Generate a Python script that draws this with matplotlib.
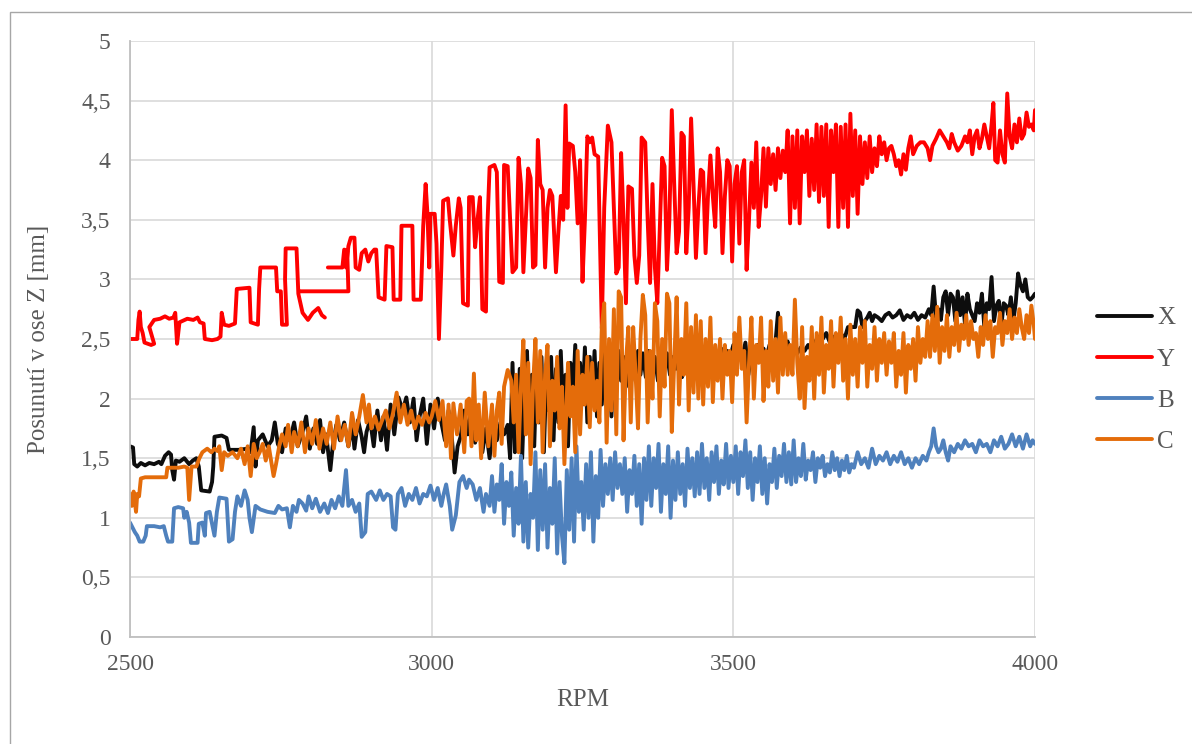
import numpy as np
import matplotlib
matplotlib.use("Agg")
import matplotlib.pyplot as plt
from matplotlib.patches import Rectangle

nan = np.nan

# (RPM, posunuti [mm])
x_points = [
    (2500, 1.60), (2505, 1.59), (2507, 1.45), (2512, 1.43), (2518, 1.46), (2525, 1.44), (2532, 1.46),
    (2540, 1.45), (2548, 1.47), (2552, 1.45), (2558, 1.52), (2564, 1.55), (2568, 1.53), (2570, 1.40),
    (2573, 1.32), (2576, 1.48), (2582, 1.47), (2590, 1.50), (2598, 1.45), (2604, 1.48), (2610, 1.50),
    (2614, 1.43), (2618, 1.23), (2632, 1.22), (2636, 1.30), (2638, 1.43), (2640, 1.68), (2652, 1.69),
    (2660, 1.67), (2664, 1.57), (2680, 1.57), (2695, 1.58), (2700, 1.55), (2705, 1.76), (2708, 1.43),
    (2712, 1.65), (2720, 1.70), (2728, 1.60), (2735, 1.65), (2740, 1.80), (2745, 1.62), (2752, 1.55),
    (2758, 1.75), (2765, 1.65), (2772, 1.80), (2778, 1.60), (2785, 1.70), (2792, 1.85), (2798, 1.58),
    (2804, 1.75), (2810, 1.62), (2815, 1.82), (2820, 1.55), (2825, 1.70), (2832, 1.40), (2836, 1.60),
    (2842, 1.78), (2848, 1.65), (2855, 1.80), (2862, 1.60), (2868, 1.78), (2872, 1.58), (2878, 1.82),
    (2884, 1.68), (2888, 1.55), (2892, 1.72), (2898, 1.82), (2904, 1.60), (2910, 1.90), (2916, 1.65),
    (2920, 1.85), (2926, 1.57), (2932, 1.95), (2938, 1.70), (2945, 2.01), (2952, 1.90), (2958, 2.01),
    (2964, 1.80), (2970, 2.00), (2975, 1.65), (2980, 1.85), (2986, 2.00), (2992, 1.62), (2998, 1.95),
    (3004, 1.75), (3010, 2.00), (3016, 1.80), (3022, 1.65), (3028, 1.90), (3033, 1.70), (3038, 1.38),
    (3043, 1.60), (3048, 1.68), (3054, 1.90), (3060, 1.70), (3066, 1.93), (3072, 1.63), (3078, 1.80),
    (3084, 1.55), (3090, 1.75), (3096, 1.50), (3102, 1.78), (3108, 1.65), (3114, 1.80), (3120, 1.70),
    (3126, 1.78), (3130, 1.50), (3134, 2.30), (3138, 1.55), (3142, 1.75), (3146, 2.25), (3150, 1.50),
    (3154, 2.10), (3158, 2.40), (3162, 1.70), (3166, 2.20), (3170, 1.60), (3174, 2.30), (3178, 1.80),
    (3182, 2.35), (3186, 1.55), (3190, 2.20), (3194, 1.90), (3198, 2.35), (3202, 1.65), (3206, 2.25),
    (3210, 1.80), (3214, 2.40), (3218, 1.85), (3222, 2.20), (3226, 1.60), (3230, 2.30), (3234, 2.00),
    (3238, 2.45), (3242, 1.80), (3246, 2.30), (3250, 1.95), (3254, 2.43), (3258, 1.80), (3262, 2.35),
    (3266, 2.00), (3270, 2.40), (3274, 1.85), (3278, 2.30), (3282, 1.95), (3286, 2.38), (3290, 2.05),
    (3294, 2.45), (3298, 1.85), (3302, 2.30), (3306, 2.10), (3310, 2.40), (3314, 2.15), (3318, 2.35),
    (3322, 2.10), (3326, 2.40), (3330, 2.20), (3334, 2.35), (3338, 2.15), (3342, 2.40), (3346, 2.20),
    (3350, 2.38), (3355, 2.18), (3360, 2.40), (3365, 2.20), (3370, 2.35), (3375, 2.15), (3380, 2.40),
    (3385, 2.25), (3390, 2.38), (3395, 2.20), (3400, 2.35), (3405, 2.25), (3410, 2.40), (3415, 2.18),
    (3420, 2.35), (3425, 2.28), (3430, 2.40), (3435, 2.20), (3440, 2.38), (3445, 2.30), (3450, 2.42),
    (3455, 2.25), (3460, 2.38), (3465, 2.30), (3470, 2.40), (3475, 2.28), (3480, 2.42), (3485, 2.30),
    (3490, 2.40), (3495, 2.35), (3500, 2.45), (3505, 2.30), (3510, 2.42), (3515, 2.35), (3520, 2.47),
    (3525, 2.20), (3530, 2.40), (3535, 2.30), (3540, 2.45), (3545, 2.38), (3550, 2.42), (3555, 2.35),
    (3560, 2.45), (3565, 2.38), (3570, 2.48), (3574, 2.72), (3578, 2.50), (3582, 2.45), (3586, 2.40),
    (3590, 2.48), (3595, 2.38), (3600, 2.45), (3606, 2.38), (3612, 2.43), (3618, 2.40), (3624, 2.45),
    (3630, 2.40), (3636, 2.48), (3642, 2.52), (3648, 2.50), (3654, 2.55), (3660, 2.47), (3666, 2.52),
    (3672, 2.48), (3678, 2.55), (3684, 2.50), (3690, 2.60), (3696, 2.60), (3702, 2.60), (3706, 2.74),
    (3710, 2.72), (3714, 2.60), (3718, 2.65), (3722, 2.68), (3726, 2.72), (3730, 2.65), (3734, 2.70),
    (3740, 2.68), (3746, 2.65), (3752, 2.70), (3758, 2.72), (3764, 2.68), (3770, 2.70), (3776, 2.74),
    (3782, 2.66), (3788, 2.70), (3794, 2.68), (3800, 2.72), (3806, 2.66), (3812, 2.70), (3818, 2.68),
    (3824, 2.75), (3828, 2.70), (3832, 2.94), (3836, 2.68), (3840, 2.75), (3844, 2.66), (3848, 2.85),
    (3852, 2.90), (3856, 2.70), (3860, 2.88), (3864, 2.85), (3868, 2.65), (3872, 2.90), (3876, 2.70),
    (3880, 2.85), (3884, 2.62), (3888, 2.88), (3892, 2.75), (3896, 2.70), (3900, 2.65), (3904, 2.80),
    (3908, 2.72), (3912, 2.88), (3916, 2.60), (3920, 2.80), (3924, 2.75), (3928, 3.02), (3932, 2.65),
    (3936, 2.78), (3940, 2.82), (3944, 2.60), (3948, 2.80), (3952, 2.78), (3956, 2.70), (3960, 2.85),
    (3964, 2.65), (3968, 2.80), (3972, 3.05), (3976, 2.95), (3980, 2.90), (3984, 3.00), (3988, 2.85),
    (3992, 2.83), (3996, 2.85), (4000, 2.88),
]

y_points = [
    (2500, 2.50), (2512, 2.50), (2514, 2.66), (2516, 2.73), (2518, 2.60), (2521, 2.55), (2524, 2.47),
    (2535, 2.45), (2540, 2.46), (2532, 2.60), (2540, 2.66), (2550, 2.67), (2558, 2.69), (2565, 2.67),
    (2572, 2.68), (2575, 2.72), (2578, 2.46), (2582, 2.64), (2595, 2.67), (2605, 2.66), (2612, 2.68),
    (2616, 2.64), (2622, 2.63), (2624, 2.50), (2636, 2.49), (2645, 2.50), (2650, 2.52), (2652, 2.72),
    (2656, 2.62), (2664, 2.61), (2674, 2.63), (2677, 2.92), (2698, 2.93), (2700, 2.64), (2712, 2.62),
    (2714, 2.92), (2716, 3.10), (2742, 3.10), (2744, 2.90), (2750, 2.90), (2752, 2.62), (2760, 2.62),
    (2757, 3.00), (2758, 3.26), (2776, 3.26), (2779, 2.88), (2786, 2.72), (2795, 2.66), (2803, 2.72),
    (2812, 2.76), (2818, 2.70), (2823, 2.68), (nan, nan),
    (2828, 3.10), (2852, 3.10), (2855, 3.25), (2860, 3.24), (2862, 2.90), (2782, 2.90), (nan, nan),
    (2858, 3.10), (2862, 3.28), (2866, 3.35), (2872, 3.35), (2874, 3.10), (2880, 3.08), (2884, 3.22),
    (2890, 3.25), (2895, 3.15), (2900, 3.22), (2905, 3.25), (2908, 3.25), (2912, 2.85), (2922, 2.83),
    (2925, 3.28), (2935, 3.27), (2937, 2.83), (2948, 2.83), (2950, 3.45), (2968, 3.45), (2970, 2.83),
    (2982, 2.83), (2986, 3.45), (2990, 3.80), (2993, 3.55), (2996, 3.10), (2998, 3.55), (3005, 3.55),
    (3008, 3.30), (3012, 2.50), (3016, 3.10), (3019, 3.66), (3027, 3.68), (3030, 3.50), (3036, 3.20),
    (3040, 3.45), (3045, 3.68), (3048, 3.60), (3052, 2.80), (3060, 2.78), (3062, 3.69), (3068, 3.69),
    (3072, 3.27), (3076, 3.50), (3080, 3.69), (3084, 2.75), (3090, 2.73), (3092, 3.40), (3096, 3.94),
    (3104, 3.96), (3108, 3.90), (3112, 2.98), (3118, 2.97), (3120, 3.96), (3126, 3.95), (3130, 3.50),
    (3134, 3.06), (3140, 3.10), (3144, 4.02), (3148, 3.80), (3152, 3.06), (3156, 3.50), (3160, 3.93),
    (3164, 3.85), (3168, 3.10), (3172, 3.12), (3176, 4.17), (3180, 3.80), (3184, 3.75), (3188, 3.10),
    (3192, 3.60), (3196, 3.75), (3200, 3.70), (3206, 3.06), (3210, 3.40), (3214, 3.70), (3218, 3.50),
    (3222, 4.46), (3225, 3.60), (3228, 4.14), (3234, 4.12), (3238, 3.90), (3242, 3.47), (3246, 4.00),
    (3250, 2.98), (3254, 3.50), (3258, 4.20), (3262, 4.15), (3266, 4.19), (3270, 4.05), (3276, 4.03),
    (3282, 2.59), (3286, 3.60), (3292, 4.29), (3298, 4.15), (3302, 3.60), (3306, 3.05), (3310, 3.10),
    (3314, 4.06), (3318, 3.50), (3322, 2.80), (3326, 3.78), (3332, 3.76), (3336, 3.20), (3340, 2.97),
    (3344, 3.20), (3348, 4.19), (3354, 4.15), (3358, 3.50), (3362, 2.97), (3366, 3.80), (3370, 3.10),
    (3374, 2.80), (3378, 3.40), (3382, 4.02), (3386, 3.95), (3390, 3.08), (3394, 3.50), (3398, 4.42),
    (3402, 3.80), (3406, 3.22), (3410, 3.40), (3414, 4.23), (3418, 4.20), (3422, 3.22), (3426, 3.60),
    (3430, 4.35), (3434, 3.80), (3438, 3.18), (3442, 3.60), (3446, 3.92), (3450, 3.90), (3454, 3.22),
    (3458, 3.70), (3462, 4.04), (3466, 3.70), (3470, 3.44), (3474, 4.10), (3478, 3.90), (3482, 3.22),
    (3486, 3.70), (3490, 4.00), (3494, 3.95), (3498, 3.15), (3502, 3.80), (3506, 3.95), (3510, 3.30),
    (3514, 3.90), (3518, 4.00), (3522, 3.08), (3526, 3.50), (3530, 3.98), (3534, 3.60), (3538, 4.15),
    (3542, 3.44), (3546, 3.70), (3550, 4.10), (3554, 3.61), (3558, 4.10), (3562, 3.80), (3566, 4.05),
    (3570, 3.75), (3574, 4.10), (3578, 3.85), (3582, 4.08), (3586, 3.90), (3590, 4.25), (3594, 3.47),
    (3598, 4.20), (3602, 3.60), (3606, 4.25), (3610, 3.47), (3614, 4.20), (3618, 3.90), (3622, 4.25),
    (3626, 3.70), (3630, 4.18), (3634, 3.75), (3638, 4.30), (3642, 3.65), (3646, 4.28), (3650, 3.70),
    (3654, 4.30), (3658, 3.44), (3662, 4.25), (3666, 3.90), (3670, 4.30), (3674, 3.44), (3678, 4.28),
    (3682, 3.60), (3686, 4.30), (3690, 3.44), (3694, 4.39), (3698, 3.70), (3702, 4.25), (3706, 3.55),
    (3710, 4.20), (3714, 3.80), (3718, 4.15), (3722, 3.85), (3726, 4.20), (3730, 3.90), (3734, 4.10),
    (3738, 3.95), (3742, 4.20), (3746, 4.05), (3750, 4.15), (3754, 4.00), (3758, 4.10), (3762, 4.12),
    (3766, 4.05), (3770, 3.95), (3774, 4.00), (3778, 3.88), (3782, 4.05), (3786, 3.92), (3790, 4.10),
    (3794, 4.20), (3798, 4.05), (3804, 4.12), (3810, 4.15), (3816, 4.15), (3822, 4.10), (3826, 4.00),
    (3830, 4.12), (3836, 4.18), (3842, 4.25), (3848, 4.20), (3854, 4.15), (3858, 4.10), (3862, 4.22),
    (3866, 4.15), (3872, 4.08), (3878, 4.12), (3884, 4.20), (3888, 4.15), (3892, 4.25), (3896, 4.05),
    (3900, 4.20), (3904, 4.25), (3908, 4.10), (3912, 4.18), (3916, 4.30), (3920, 4.20), (3924, 4.10),
    (3928, 4.30), (3931, 4.48), (3934, 4.00), (3938, 3.98), (3942, 4.25), (3946, 4.05), (3950, 3.98),
    (3954, 4.56), (3958, 4.20), (3962, 4.10), (3966, 4.30), (3970, 4.15), (3974, 4.35), (3978, 4.18),
    (3982, 4.22), (3986, 4.40), (3990, 4.28), (3994, 4.30), (3998, 4.25), (4000, 4.42),
]

b_points = [
    (2500, 0.96), (2504, 0.92), (2508, 0.88), (2512, 0.85), (2516, 0.80), (2522, 0.80), (2526, 0.85),
    (2528, 0.93), (2540, 0.93), (2550, 0.92), (2556, 0.93), (2560, 0.85), (2563, 0.80), (2570, 0.80),
    (2573, 1.08), (2580, 1.09), (2588, 1.08), (2590, 1.00), (2594, 1.05), (2598, 0.96), (2601, 0.79),
    (2612, 0.79), (2614, 0.95), (2620, 0.96), (2624, 0.85), (2626, 1.04), (2632, 1.05), (2636, 0.95),
    (2640, 0.85), (2644, 1.05), (2648, 1.17), (2660, 1.16), (2664, 0.80), (2670, 0.82), (2674, 1.05),
    (2678, 1.18), (2684, 1.10), (2690, 1.23), (2695, 1.15), (2698, 1.00), (2702, 0.88), (2708, 1.10),
    (2716, 1.07), (2728, 1.05), (2740, 1.04), (2746, 1.10), (2752, 1.07), (2760, 1.08), (2765, 0.92),
    (2770, 1.10), (2776, 1.05), (2780, 1.15), (2786, 1.12), (2792, 1.06), (2796, 1.18), (2802, 1.08),
    (2808, 1.16), (2815, 1.05), (2822, 1.12), (2828, 1.04), (2834, 1.15), (2840, 1.08), (2846, 1.18),
    (2852, 1.10), (2858, 1.40), (2862, 1.10), (2868, 1.15), (2874, 1.05), (2880, 1.12), (2884, 0.84),
    (2890, 0.88), (2894, 1.20), (2900, 1.22), (2908, 1.15), (2914, 1.23), (2920, 1.15), (2926, 1.20),
    (2932, 1.18), (2936, 0.92), (2940, 0.90), (2944, 1.20), (2950, 1.25), (2956, 1.10), (2962, 1.20),
    (2968, 1.15), (2974, 1.25), (2980, 1.12), (2986, 1.20), (2992, 1.18), (2998, 1.27), (3004, 1.15),
    (3010, 1.25), (3016, 1.10), (3020, 1.20), (3024, 1.28), (3030, 1.10), (3034, 0.90), (3040, 1.02),
    (3046, 1.30), (3052, 1.35), (3058, 1.25), (3062, 1.32), (3068, 1.28), (3074, 1.15), (3080, 1.25),
    (3086, 1.05), (3090, 1.20), (3096, 1.10), (3100, 1.35), (3104, 1.05), (3108, 1.28), (3112, 1.15),
    (3116, 1.45), (3120, 0.95), (3124, 1.30), (3128, 1.10), (3132, 1.38), (3136, 0.85), (3140, 1.25),
    (3144, 0.95), (3148, 1.52), (3152, 0.80), (3156, 1.30), (3160, 0.75), (3164, 1.20), (3168, 1.00),
    (3172, 1.55), (3176, 0.73), (3180, 1.40), (3184, 0.90), (3188, 1.45), (3192, 0.75), (3196, 1.25),
    (3200, 0.95), (3204, 1.50), (3208, 0.70), (3212, 1.30), (3216, 0.85), (3220, 0.62), (3224, 1.40),
    (3228, 0.90), (3232, 1.50), (3236, 0.80), (3240, 1.60), (3244, 1.05), (3248, 1.30), (3252, 0.90),
    (3256, 1.45), (3260, 1.00), (3264, 1.55), (3268, 0.80), (3272, 1.35), (3276, 1.00), (3280, 1.57),
    (3284, 1.10), (3288, 1.45), (3292, 1.20), (3296, 1.50), (3300, 1.15), (3304, 1.55), (3308, 1.25),
    (3312, 1.45), (3316, 1.20), (3320, 1.50), (3324, 1.05), (3328, 1.40), (3332, 1.20), (3336, 1.52),
    (3340, 1.10), (3344, 1.45), (3348, 0.95), (3352, 1.50), (3356, 1.15), (3360, 1.60), (3364, 1.10),
    (3368, 1.50), (3372, 1.25), (3376, 1.62), (3380, 1.05), (3384, 1.45), (3388, 1.20), (3392, 1.60),
    (3396, 1.00), (3400, 1.48), (3404, 1.15), (3408, 1.55), (3412, 1.20), (3416, 1.45), (3420, 1.10),
    (3424, 1.58), (3428, 1.25), (3432, 1.50), (3436, 1.18), (3440, 1.55), (3444, 1.20), (3448, 1.62),
    (3452, 1.25), (3456, 1.50), (3460, 1.15), (3464, 1.55), (3468, 1.30), (3472, 1.60), (3476, 1.20),
    (3480, 1.48), (3484, 1.28), (3488, 1.62), (3492, 1.25), (3496, 1.52), (3500, 1.30), (3504, 1.60),
    (3508, 1.20), (3512, 1.55), (3516, 1.35), (3520, 1.65), (3524, 1.25), (3528, 1.55), (3532, 1.15),
    (3536, 1.50), (3540, 1.30), (3544, 1.60), (3548, 1.20), (3552, 1.50), (3556, 1.12), (3560, 1.45),
    (3564, 1.30), (3568, 1.58), (3572, 1.25), (3576, 1.52), (3580, 1.35), (3584, 1.62), (3588, 1.30),
    (3592, 1.55), (3596, 1.28), (3600, 1.65), (3604, 1.30), (3608, 1.50), (3612, 1.35), (3616, 1.62),
    (3620, 1.32), (3624, 1.48), (3628, 1.40), (3632, 1.55), (3636, 1.30), (3640, 1.50), (3644, 1.42),
    (3648, 1.52), (3652, 1.35), (3656, 1.45), (3660, 1.38), (3664, 1.55), (3668, 1.40), (3672, 1.50),
    (3676, 1.35), (3680, 1.48), (3684, 1.40), (3688, 1.52), (3692, 1.38), (3696, 1.45), (3700, 1.42),
    (3706, 1.55), (3712, 1.45), (3718, 1.50), (3724, 1.42), (3730, 1.58), (3736, 1.45), (3742, 1.52),
    (3748, 1.48), (3754, 1.55), (3760, 1.45), (3766, 1.52), (3772, 1.47), (3778, 1.55), (3784, 1.45),
    (3790, 1.50), (3796, 1.42), (3802, 1.50), (3808, 1.45), (3814, 1.52), (3820, 1.48), (3824, 1.55),
    (3828, 1.60), (3832, 1.75), (3836, 1.60), (3840, 1.55), (3844, 1.58), (3848, 1.65), (3852, 1.55),
    (3856, 1.48), (3860, 1.60), (3866, 1.55), (3872, 1.62), (3878, 1.58), (3884, 1.65), (3890, 1.60),
    (3896, 1.62), (3902, 1.55), (3908, 1.65), (3914, 1.60), (3920, 1.62), (3926, 1.55), (3932, 1.65),
    (3938, 1.60), (3944, 1.68), (3950, 1.58), (3956, 1.62), (3962, 1.70), (3968, 1.60), (3974, 1.68),
    (3980, 1.58), (3986, 1.70), (3992, 1.60), (3996, 1.65), (4000, 1.62),
]

c_points = [
    (2500, 1.20), (2503, 1.10), (2506, 1.22), (2510, 1.05), (2512, 1.20), (2515, 1.18), (2518, 1.33),
    (2525, 1.34), (2535, 1.34), (2545, 1.34), (2560, 1.34), (2562, 1.42), (2570, 1.42), (2580, 1.42),
    (2590, 1.43), (2595, 1.42), (2598, 1.15), (2602, 1.43), (2610, 1.43), (2615, 1.50), (2620, 1.55),
    (2628, 1.58), (2635, 1.55), (2640, 1.58), (2645, 1.56), (2648, 1.60), (2652, 1.40), (2656, 1.55),
    (2662, 1.52), (2670, 1.55), (2678, 1.50), (2684, 1.58), (2690, 1.45), (2695, 1.60), (2700, 1.35),
    (2705, 1.62), (2710, 1.50), (2715, 1.55), (2720, 1.62), (2725, 1.48), (2730, 1.60), (2738, 1.35),
    (2742, 1.45), (2748, 1.62), (2752, 1.70), (2758, 1.60), (2762, 1.78), (2768, 1.55), (2772, 1.72),
    (2778, 1.60), (2784, 1.80), (2790, 1.55), (2796, 1.75), (2802, 1.62), (2808, 1.82), (2814, 1.58),
    (2820, 1.75), (2826, 1.62), (2832, 1.80), (2838, 1.58), (2844, 1.85), (2850, 1.65), (2856, 1.78),
    (2862, 1.60), (2868, 1.88), (2874, 1.70), (2880, 1.85), (2886, 2.03), (2892, 1.80), (2896, 1.95),
    (2900, 1.75), (2906, 1.85), (2912, 1.74), (2918, 1.82), (2924, 1.90), (2930, 1.75), (2936, 1.88),
    (2942, 2.05), (2948, 1.80), (2954, 1.95), (2960, 1.78), (2966, 1.90), (2972, 1.75), (2978, 1.85),
    (2984, 1.78), (2990, 1.88), (2996, 1.80), (3000, 1.85), (3006, 1.98), (3012, 1.82), (3018, 1.98),
    (3024, 1.60), (3028, 1.95), (3032, 1.50), (3036, 1.96), (3042, 1.70), (3048, 1.95), (3054, 1.55),
    (3058, 1.98), (3062, 2.00), (3066, 1.60), (3070, 2.21), (3074, 1.65), (3078, 1.95), (3082, 1.50),
    (3088, 2.05), (3094, 1.60), (3100, 1.95), (3104, 1.52), (3108, 1.90), (3112, 2.05), (3116, 1.62),
    (3120, 2.10), (3126, 2.24), (3132, 2.15), (3136, 1.80), (3140, 2.20), (3144, 1.55), (3148, 2.10),
    (3152, 2.49), (3156, 1.70), (3160, 2.30), (3164, 1.45), (3168, 2.10), (3172, 2.50), (3176, 1.80),
    (3180, 2.40), (3184, 1.55), (3188, 2.20), (3192, 2.45), (3196, 1.60), (3200, 2.15), (3204, 1.90),
    (3208, 2.35), (3212, 1.75), (3216, 2.10), (3220, 1.45), (3226, 2.30), (3230, 1.85), (3234, 2.10),
    (3238, 1.55), (3242, 2.40), (3246, 1.70), (3250, 2.20), (3254, 1.95), (3258, 2.35), (3262, 1.76),
    (3266, 2.30), (3270, 1.90), (3274, 2.15), (3278, 1.80), (3282, 2.60), (3286, 2.80), (3290, 1.63),
    (3294, 2.50), (3298, 1.90), (3302, 2.75), (3306, 1.70), (3310, 2.90), (3314, 2.85), (3318, 1.65),
    (3322, 2.30), (3326, 2.60), (3330, 1.80), (3334, 2.60), (3338, 2.20), (3342, 1.75), (3346, 2.50),
    (3350, 2.87), (3354, 2.70), (3358, 1.80), (3362, 2.40), (3366, 2.00), (3370, 2.80), (3374, 2.65),
    (3378, 1.85), (3382, 2.50), (3386, 2.10), (3390, 2.88), (3394, 2.80), (3398, 1.72), (3402, 2.30),
    (3406, 2.85), (3410, 1.95), (3414, 2.50), (3418, 2.20), (3422, 2.80), (3426, 1.90), (3430, 2.60),
    (3434, 2.05), (3438, 2.70), (3442, 2.00), (3446, 2.65), (3450, 1.95), (3454, 2.50), (3458, 2.10),
    (3462, 2.68), (3466, 1.97), (3470, 2.45), (3474, 2.15), (3478, 2.50), (3482, 2.00), (3486, 2.45),
    (3490, 2.20), (3494, 2.40), (3498, 1.97), (3502, 2.55), (3506, 2.20), (3510, 2.68), (3514, 2.25),
    (3518, 2.40), (3522, 1.80), (3526, 2.30), (3530, 2.68), (3534, 2.00), (3538, 2.45), (3542, 2.30),
    (3546, 2.68), (3550, 1.98), (3554, 2.40), (3558, 2.10), (3562, 2.65), (3566, 2.15), (3570, 2.50),
    (3574, 2.05), (3578, 2.68), (3582, 2.20), (3586, 2.55), (3590, 2.20), (3594, 2.45), (3598, 2.20),
    (3602, 2.83), (3606, 2.30), (3610, 2.00), (3614, 2.60), (3618, 1.92), (3622, 2.35), (3626, 2.15),
    (3630, 2.60), (3634, 2.00), (3638, 2.55), (3642, 2.20), (3646, 2.68), (3650, 2.05), (3654, 2.45),
    (3658, 2.25), (3662, 2.65), (3666, 2.10), (3670, 2.55), (3674, 2.30), (3678, 2.68), (3682, 2.15),
    (3686, 2.50), (3690, 2.00), (3694, 2.62), (3698, 2.20), (3702, 2.50), (3706, 2.10), (3710, 2.60),
    (3714, 2.30), (3718, 2.65), (3722, 2.10), (3726, 2.45), (3730, 2.25), (3734, 2.60), (3738, 2.15),
    (3742, 2.50), (3746, 2.30), (3750, 2.55), (3754, 2.20), (3758, 2.48), (3762, 2.30), (3766, 2.55),
    (3770, 2.10), (3774, 2.40), (3778, 2.20), (3782, 2.55), (3786, 2.05), (3790, 2.45), (3794, 2.25),
    (3798, 2.50), (3802, 2.15), (3806, 2.60), (3810, 2.30), (3814, 2.50), (3818, 2.35), (3822, 2.65),
    (3826, 2.35), (3830, 2.70), (3834, 2.40), (3838, 2.77), (3842, 2.30), (3846, 2.60), (3850, 2.40),
    (3854, 2.70), (3858, 2.35), (3862, 2.60), (3866, 2.45), (3870, 2.72), (3874, 2.40), (3878, 2.62),
    (3882, 2.50), (3886, 2.70), (3890, 2.45), (3894, 2.65), (3898, 2.50), (3902, 2.55), (3906, 2.35),
    (3910, 2.60), (3914, 2.45), (3918, 2.70), (3922, 2.50), (3926, 2.65), (3930, 2.35), (3934, 2.60),
    (3938, 2.55), (3942, 2.72), (3946, 2.45), (3950, 2.65), (3954, 2.55), (3958, 2.75), (3962, 2.50),
    (3966, 2.68), (3970, 2.55), (3974, 2.75), (3978, 2.60), (3982, 2.50), (3986, 2.70), (3990, 2.55),
    (3994, 2.78), (3998, 2.62), (4000, 2.50),
]

series_names = ["X", "Y", "B", "C"]
series_colors = ["#0d0d0d", "#ff0000", "#4f81bd", "#e46c0a"]
x_ticks = [2500, 3000, 3500, 4000]
y_ticks = [0, 0.5, 1, 1.5, 2, 2.5, 3, 3.5, 4, 4.5, 5]
y_tick_labels = ["0", "0,5", "1", "1,5", "2", "2,5", "3", "3,5", "4", "4,5", "5"]

plt.rcParams["font.family"] = ["Liberation Serif", "DejaVu Serif"]
text_color = "#595959"
grid_color = "#d9d9d9"

fig = plt.figure(figsize=(11.92, 7.44), dpi=100)
ax = fig.add_axes([130 / 1192, 1 - 637 / 744, 905 / 1192, 596 / 744])

for name, color, pts in zip(series_names, series_colors, [x_points, y_points, b_points, c_points]):
    arr = np.array(pts, dtype=float)
    ax.plot(arr[:, 0], arr[:, 1], color=color, lw=2.8, label=name,
            solid_joinstyle="round", solid_capstyle="round")

ax.set_xlim(2500, 4000)
ax.set_ylim(0, 5)
ax.set_xticks(x_ticks)
ax.set_yticks(y_ticks)
ax.set_yticklabels(y_tick_labels)
ax.grid(True, color=grid_color, lw=1.2)
ax.set_axisbelow(True)
ax.tick_params(length=0, labelsize=17, labelcolor=text_color)
ax.tick_params(axis="y", pad=14)
ax.tick_params(axis="x", pad=12)
for side in ["top", "right"]:
    ax.spines[side].set_visible(False)
for side in ["left", "bottom"]:
    ax.spines[side].set_color("#bfbfbf")
    ax.spines[side].set_linewidth(1.3)

ax.set_xlabel("RPM", fontsize=18, color=text_color, labelpad=10)
ax.set_ylabel("Posunutí v ose Z [mm]", fontsize=18, color=text_color, labelpad=22)

leg = fig.legend(loc="center left", bbox_to_anchor=(1097 / 1192, 1 - 380 / 744),
                 frameon=False, fontsize=18, handlelength=2.2, handletextpad=0.2,
                 labelspacing=0.75, borderpad=0, borderaxespad=0)
for t in leg.get_texts():
    t.set_color(text_color)

# outer chart border
fig.patches.append(Rectangle((10 / 1192, -0.05), 1.2, 1 - 12 / 744 + 0.05,
                             transform=fig.transFigure, fill=False,
                             edgecolor="#a6a6a6", lw=1.0))

fig.savefig("out.png", dpi=100)
